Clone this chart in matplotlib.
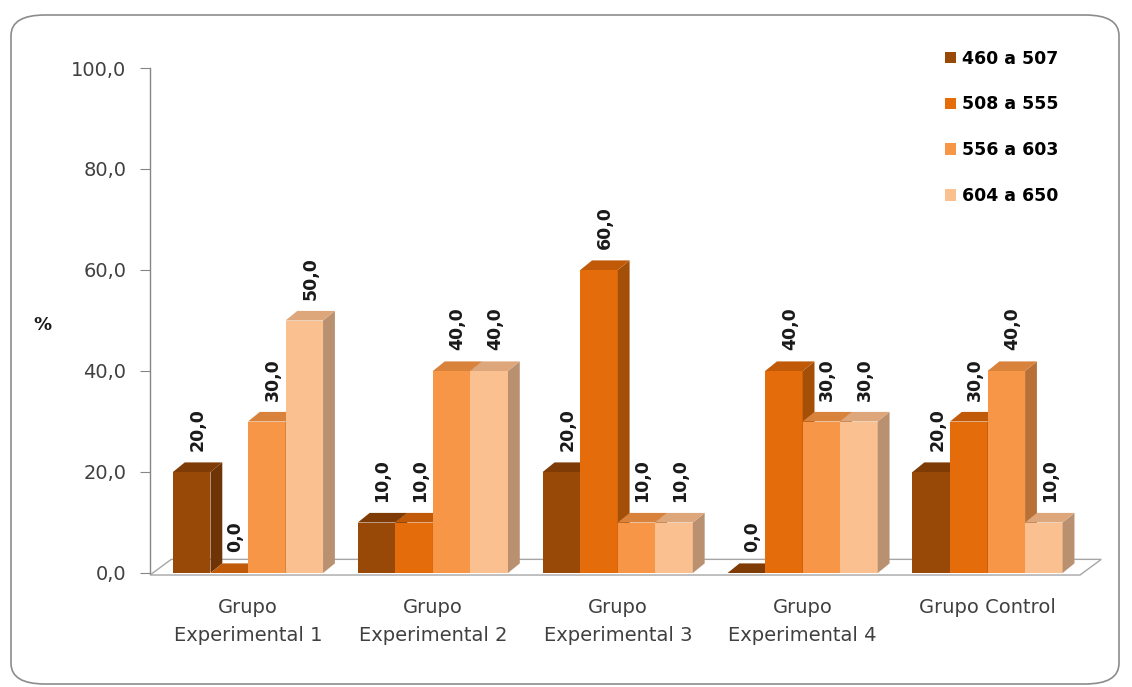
import numpy as np
import matplotlib
matplotlib.use("Agg")
import matplotlib.pyplot as plt
from matplotlib.patches import Polygon, Patch, FancyBboxPatch

plt.rcParams['font.family'] = ['DejaVu Sans']

groups = ["Grupo\nExperimental 1", "Grupo\nExperimental 2", "Grupo\nExperimental 3",
          "Grupo\nExperimental 4", "Grupo Control"]
series = ["460 a 507", "508 a 555", "556 a 603", "604 a 650"]
v_460_507 = [20.0, 10.0, 20.0, 0.0, 20.0]
v_508_555 = [0.0, 10.0, 60.0, 40.0, 30.0]
v_556_603 = [30.0, 40.0, 10.0, 30.0, 40.0]
v_604_650 = [50.0, 40.0, 10.0, 30.0, 10.0]
values = [v_460_507, v_508_555, v_556_603, v_604_650]

# front, side, top shades for each series
front = ["#984807", "#E46C0A", "#F79646", "#FAC090"]
side = ["#6E3405", "#A44F08", "#B87036", "#B99070"]
top = ["#7E3B06", "#C05A08", "#D8823C", "#DDA67B"]

W, H = 1132, 687
fig = plt.figure(figsize=(W / 100, H / 100), dpi=100)

# rounded chart frame
frame = FancyBboxPatch((11 / W, 3 / H), 1108 / W, 669 / H,
                       boxstyle="round,pad=0,rounding_size=0.03",
                       transform=fig.transFigure, facecolor="white",
                       edgecolor="#8c8c8c", linewidth=1.2, zorder=-5)
fig.patches.append(frame)

ax = fig.add_axes([150 / W, 1 - 573 / H, 930 / W, 505 / H])
ax.set_facecolor("none")

w = 0.203      # bar width
dx = 0.064     # depth offset in x
dy = 1.9       # depth offset in y

ax.set_xlim(-0.53, 4.50)
ax.set_ylim(0, 100)

# floor
floor = Polygon([(-0.53, -0.4), (4.50, -0.4), (4.50 + 0.115, 2.7), (-0.53 + 0.115, 2.7)],
                closed=True, facecolor="white", edgecolor="#a6a6a6", linewidth=1.0,
                zorder=1, clip_on=False)
ax.add_patch(floor)

z = 2
for i in range(len(groups)):
    for j in range(len(series)):
        v = values[j][i]
        x0 = i - 2 * w + j * w
        ax.bar(x0, v, width=w, align="edge", color=front[j], linewidth=0,
               zorder=z, clip_on=False)
        ax.add_patch(Polygon([(x0 + w, 0), (x0 + w + dx, dy), (x0 + w + dx, v + dy), (x0 + w, v)],
                             closed=True, facecolor=side[j], linewidth=0, zorder=z, clip_on=False))
        ax.add_patch(Polygon([(x0, v), (x0 + dx, v + dy), (x0 + w + dx, v + dy), (x0 + w, v)],
                             closed=True, facecolor=top[j], linewidth=0, zorder=z, clip_on=False))
        ax.text(x0 + (w + dx) / 2, v + dy + 2.2, f"{v:.1f}".replace(".", ","),
                rotation=90, ha="center", va="bottom", fontsize=12.5,
                fontweight="bold", color="#1a1a1a", zorder=10)
        z += 1

for s in ["top", "right", "bottom"]:
    ax.spines[s].set_visible(False)
ax.spines["left"].set_color("#868686")
ax.spines["left"].set_linewidth(1.0)

ax.set_yticks(np.arange(0, 101, 20))
ax.set_yticklabels([f"{t:.1f}".replace(".", ",") for t in np.arange(0, 101, 20)])
ax.tick_params(axis="y", length=7, color="#868686", labelsize=14,
               labelcolor="#404040", pad=10)
ax.set_xticks(range(len(groups)))
ax.set_xticklabels(groups, fontsize=14, color="#404040", linespacing=1.6)
ax.tick_params(axis="x", length=0, pad=18)

fig.text(42 / W, 1 - 325 / H, "%", fontsize=13, fontweight="bold",
         ha="center", va="center", color="#1a1a1a")

handles = [Patch(facecolor=c, edgecolor="none") for c in front]
fig.legend(handles, series, loc="upper left", bbox_to_anchor=(929 / W, 1 - 34 / H),
           frameon=False, handlelength=0.65, handleheight=0.65, handletextpad=0.35,
           labelspacing=1.6, prop={"weight": "bold", "size": 12.5})

fig.savefig("out.png", dpi=100)
